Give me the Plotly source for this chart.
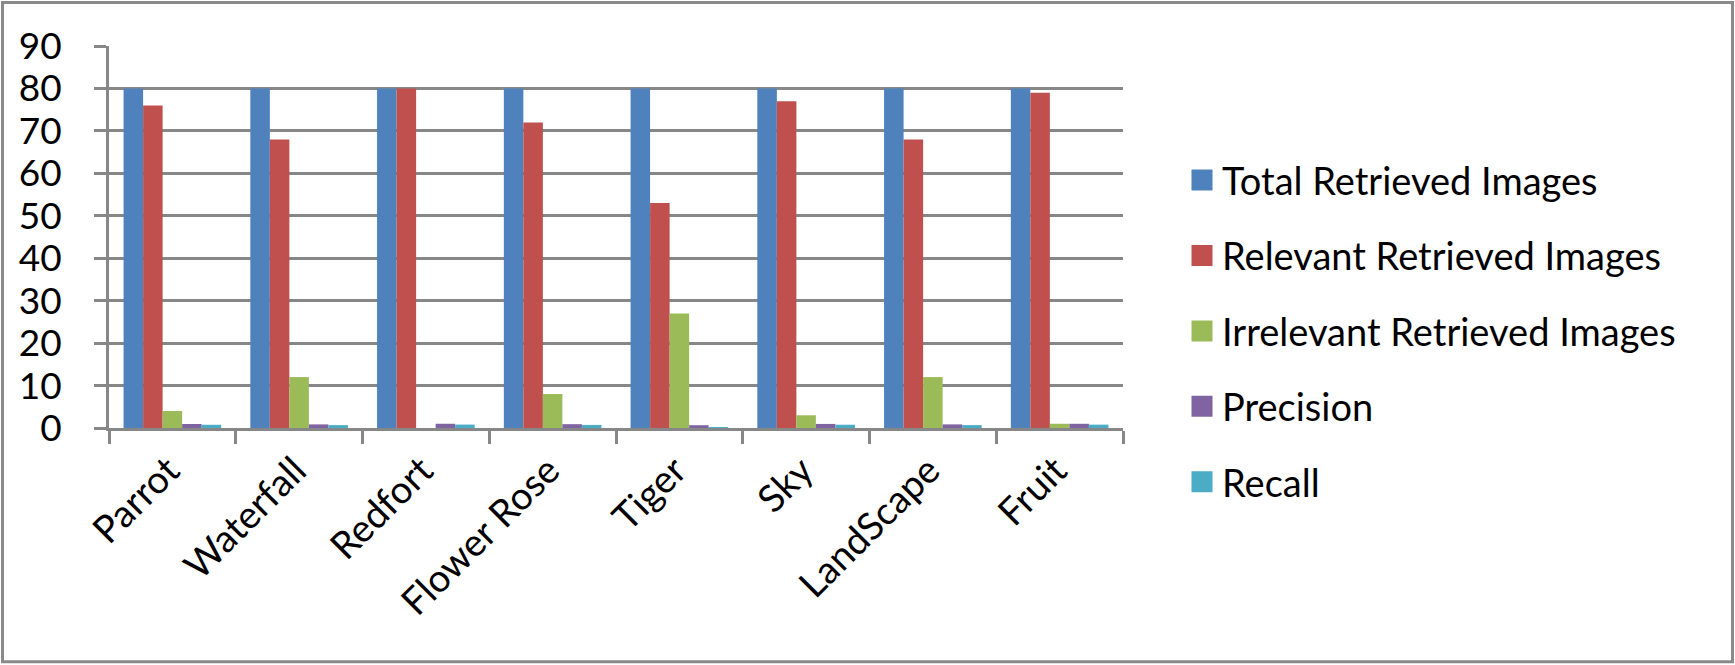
import plotly.graph_objects as go

categories = ['Parrot', 'Waterfall', 'Redfort', 'Flower Rose', 'Tiger', 'Sky', 'LandScape', 'Fruit']
total_retrieved = [80, 80, 80, 80, 80, 80, 80, 80]
relevant_retrieved = [76, 68, 80, 72, 53, 77, 68, 79]
irrelevant_retrieved = [4, 12, 0, 8, 27, 3, 12, 1]
precision = [0.95, 0.85, 1.0, 0.9, 0.66, 0.96, 0.85, 0.99]
recall = [0.76, 0.68, 0.8, 0.72, 0.1, 0.77, 0.68, 0.79]

series_names = ['Total Retrieved Images', 'Relevant Retrieved Images',
                'Irrelevant Retrieved Images', 'Precision', 'Recall']
series_values = [total_retrieved, relevant_retrieved, irrelevant_retrieved, precision, recall]
colors = ['#4F81BD', '#C0504D', '#9BBB59', '#8064A2', '#4BACC6']

FONT = 'Lato'
GRID = '#878787'

# plot area in pixels: x 109..1123, y 46..428.5
L, R, T, B = 109, 1123, 46, 428.5
PW, PH = R - L, B - T

fig = go.Figure()
for name, vals, col in zip(series_names, series_values, colors):
    fig.add_trace(go.Bar(x=categories, y=vals, name=name, marker_color=col,
                         marker_line_width=0, showlegend=False))
# legend entries with larger square swatches
for name, col in zip(series_names, colors):
    fig.add_trace(go.Scatter(x=[None], y=[None], mode='markers', name=name,
                             legendgroup=name,
                             marker=dict(symbol='square', size=24, color=col,
                                         line=dict(color=col, width=5))))

fig.update_layout(
    width=1735, height=665,
    margin=dict(l=L, r=1735 - R, t=T, b=665 - B),
    paper_bgcolor='white', plot_bgcolor='white',
    barmode='group', bargap=0.23, bargroupgap=0,
    font=dict(family=FONT, size=36, color='black'),
    legend=dict(x=(1182 - L) / PW, xanchor='left', y=(B - 331.25) / PH, yanchor='middle',
                font=dict(family=FONT, size=38), tracegroupgap=23,
                traceorder='grouped', itemwidth=30),
    shapes=[dict(type='rect', xref='paper', yref='paper',
                 x0=(2.5 - L) / PW, x1=(1732.5 - L) / PW,
                 y0=(B - 662.5) / PH, y1=(B - 2.5) / PH,
                 line=dict(color='#8a8a8a', width=3), layer='below')],
)
fig.update_xaxes(showline=True, linecolor=GRID, linewidth=3,
                 ticks='outside', tickson='boundaries', ticklen=13, tickwidth=3,
                 tickcolor=GRID, tickangle=-45, showgrid=False,
                 ticklabelstandoff=2, ticklabelshift=-4,
                 tickfont=dict(family=FONT, size=38))
fig.update_yaxes(range=[0, 90], dtick=10, showline=True, linecolor=GRID, linewidth=3,
                 ticks='outside', ticklen=12, tickwidth=3, tickcolor=GRID,
                 showgrid=True, gridcolor=GRID, gridwidth=3, zeroline=False,
                 ticklabelstandoff=25, tickfont=dict(family=FONT, size=37))

fig.write_html("out.html", config={'displayModeBar': False},
               post_script="document.body.style.margin='0';document.body.style.overflow='hidden';")
